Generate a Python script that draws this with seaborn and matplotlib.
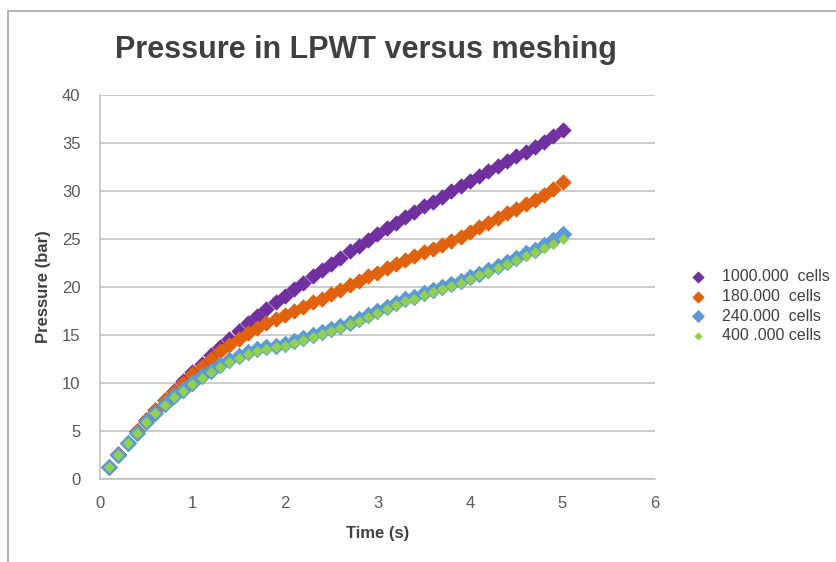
import numpy as np
import pandas as pd
import matplotlib
matplotlib.use("Agg")
import matplotlib.pyplot as plt
import seaborn as sns
from matplotlib.lines import Line2D

################ DATA ################

time_s = [round(0.1 * i, 1) for i in range(1, 51)]

p_1000k = [1.3, 2.6, 3.8, 5.0, 6.1, 7.2, 8.2, 9.2, 10.2, 11.1,
           12.0, 12.9, 13.8, 14.6, 15.4, 16.2, 17.0, 17.7, 18.4, 19.1,
           19.8, 20.4, 21.1, 21.8, 22.4, 23.0, 23.7, 24.3, 24.9, 25.5,
           26.1, 26.7, 27.3, 27.8, 28.4, 28.9, 29.4, 30.0, 30.5, 31.0,
           31.6, 32.1, 32.6, 33.1, 33.6, 34.1, 34.6, 35.1, 35.7, 36.4]

p_180k = [1.3, 2.6, 3.8, 5.0, 6.1, 7.2, 8.2, 9.1, 10.0, 10.9,
          11.7, 12.5, 13.3, 14.0, 14.6, 15.2, 15.7, 16.2, 16.7, 17.1,
          17.5, 17.9, 18.4, 18.8, 19.3, 19.7, 20.2, 20.6, 21.1, 21.5,
          22.0, 22.4, 22.8, 23.2, 23.6, 24.0, 24.4, 24.8, 25.2, 25.7,
          26.2, 26.7, 27.2, 27.7, 28.1, 28.6, 29.1, 29.6, 30.2, 30.9]

p_240k = [1.3, 2.5, 3.7, 4.8, 5.9, 6.9, 7.8, 8.6, 9.3, 10.0,
          10.7, 11.3, 11.9, 12.4, 12.8, 13.2, 13.5, 13.7, 13.9, 14.1,
          14.4, 14.7, 15.0, 15.3, 15.6, 15.9, 16.3, 16.7, 17.1, 17.5,
          17.9, 18.3, 18.7, 19.0, 19.4, 19.7, 20.0, 20.3, 20.6, 21.0,
          21.4, 21.8, 22.2, 22.6, 23.0, 23.5, 23.9, 24.4, 24.9, 25.5]

p_400k = [1.3, 2.5, 3.7, 4.8, 5.9, 6.9, 7.7, 8.5, 9.2, 9.9,
          10.5, 11.1, 11.7, 12.2, 12.6, 13.0, 13.3, 13.5, 13.7, 13.9,
          14.2, 14.5, 14.8, 15.1, 15.4, 15.7, 16.1, 16.5, 16.9, 17.3,
          17.7, 18.1, 18.5, 18.8, 19.2, 19.5, 19.8, 20.1, 20.4, 20.8,
          21.2, 21.6, 22.0, 22.4, 22.8, 23.2, 23.6, 24.1, 24.5, 25.0]

series_labels = ["1000.000  cells", "180.000  cells", "240.000  cells", "400 .000 cells"]
series_colors = ["#7030A0", "#E0620D", "#5B9BD5", "#92D050"]
marker_sizes = [70, 70, 80, 32]

x_ticks = [0, 1, 2, 3, 4, 5, 6]
y_ticks = [0, 5, 10, 15, 20, 25, 30, 35, 40]

df = pd.DataFrame({
    "time": time_s * 4,
    "pressure": p_1000k + p_180k + p_240k + p_400k,
    "mesh": np.repeat(series_labels, len(time_s)),
})

################ PLOT ################

sns.set_theme(style="white")
plt.rcParams["font.family"] = ["Liberation Sans", "DejaVu Sans"]

fig = plt.figure(figsize=(8.36, 5.62), dpi=100)
ax = fig.add_axes([0.1196, 0.1477, 0.6639, 0.6833])

for label, color, s in zip(series_labels, series_colors, marker_sizes):
    sns.scatterplot(data=df[df["mesh"] == label], x="time", y="pressure",
                    color=color, marker="D", s=s, linewidth=0, ax=ax,
                    label=label, zorder=3)

ax.set_xlim(0, 6)
ax.set_ylim(0, 40)
ax.set_xticks(x_ticks)
ax.set_yticks(y_ticks)
ax.tick_params(axis="both", length=0, labelsize=12, labelcolor="#595959")
ax.tick_params(axis="y", pad=14)
ax.tick_params(axis="x", pad=12)
ax.yaxis.grid(True, color="#BDBDBD", linewidth=1.1)
ax.xaxis.grid(False)
for side in ["top", "right"]:
    ax.spines[side].set_visible(False)
for side in ["left", "bottom"]:
    ax.spines[side].set_color("#BDBDBD")
    ax.spines[side].set_linewidth(1.1)

ax.set_xlabel("Time (s)", fontsize=12, fontweight="bold", color="#404040", labelpad=11)
ax.set_ylabel("Pressure (bar)", fontsize=12, fontweight="bold", color="#404040", labelpad=8)

fig.text(0.438, 1 - 50 / 562, "Pressure in LPWT versus meshing", ha="center", va="center",
         fontsize=22, fontweight="bold", color="#404040")

leg = ax.legend(loc="center left", bbox_to_anchor=(1.037, 0.45), frameon=False,
                fontsize=11.5, handletextpad=0.5, labelspacing=0.3,
                markerscale=0.75, borderaxespad=0)
for t in leg.get_texts():
    t.set_color("#404040")

# outer frame (left and top edges of the chart area)
fig.add_artist(Line2D([8 / 836, 8 / 836], [0, 1 - 11 / 562], color="#A6A6A6", lw=1.2))
fig.add_artist(Line2D([8 / 836, 1], [1 - 11 / 562, 1 - 11 / 562], color="#A6A6A6", lw=1.2))

fig.savefig("out.png", dpi=100)
